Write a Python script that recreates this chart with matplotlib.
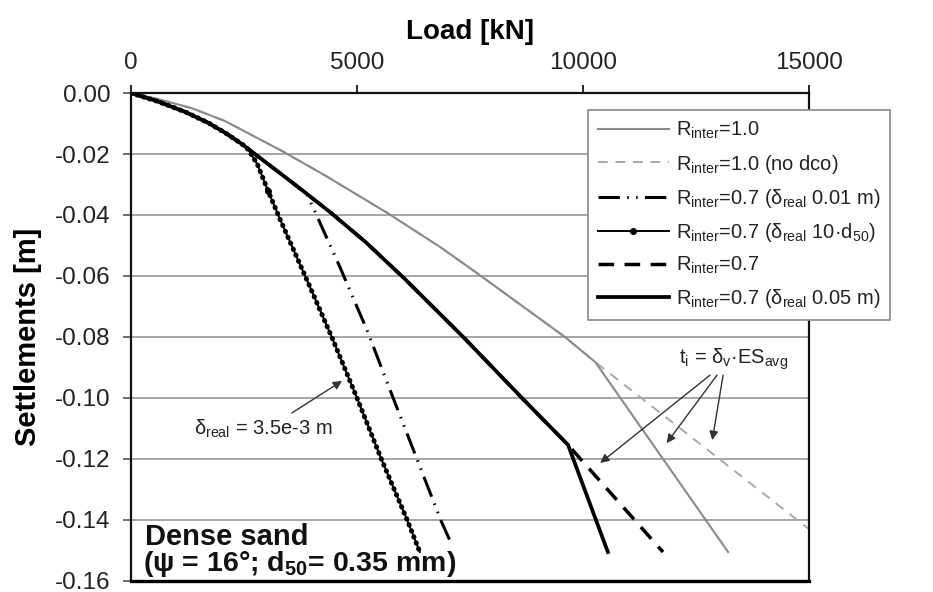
import matplotlib
matplotlib.use("Agg")
import matplotlib.pyplot as plt

plt.rcParams['font.family'] = ['Liberation Sans', 'DejaVu Sans']
plt.rcParams['mathtext.fontset'] = 'custom'
plt.rcParams['mathtext.rm'] = 'Liberation Sans'
plt.rcParams['mathtext.it'] = 'Liberation Sans:italic'
plt.rcParams['mathtext.bf'] = 'Liberation Sans:bold'
plt.rcParams['axes.unicode_minus'] = False

# Load [kN] vs settlement [m]
load_r10 = [0, 600, 1350, 2080, 3340, 4290, 5690, 6840, 7650, 9600, 10270, 13210]
sett_r10 = [0, -0.0020, -0.0050, -0.0092, -0.0190, -0.0270, -0.0395, -0.0505,
            -0.0590, -0.0800, -0.0882, -0.1505]

load_r10_nodco = [0, 600, 1350, 2080, 3340, 4290, 5690, 6840, 7650, 9600, 10270, 15000]
sett_r10_nodco = [0, -0.0020, -0.0050, -0.0092, -0.0190, -0.0270, -0.0395, -0.0505,
                  -0.0590, -0.0800, -0.0882, -0.1430]

load_r07_001 = [0, 600, 1200, 1700, 2100, 2460, 2740, 3520, 3890, 4620, 5220, 5800, 6860, 7100]
sett_r07_001 = [0, -0.0028, -0.0062, -0.0097, -0.0132, -0.0168, -0.0200, -0.0288,
                -0.0330, -0.0570, -0.0777, -0.1000, -0.1403, -0.1482]

load_r07_d50 = [0, 600, 1200, 1700, 2100, 2460, 2600, 2800, 3030, 3300, 3960, 4470,
                5000, 5530, 6110, 6390]
sett_r07_d50 = [0, -0.0028, -0.0062, -0.0097, -0.0132, -0.0168, -0.0186, -0.0235,
                -0.0320, -0.0415, -0.0636, -0.0810, -0.1000, -0.1197, -0.1400, -0.1505]

load_r07 = [0, 600, 1200, 1700, 2100, 2460, 2740, 3520, 4400, 5200, 6060, 7370, 8650,
            9670, 11770]
sett_r07 = [0, -0.0028, -0.0062, -0.0097, -0.0132, -0.0168, -0.0200, -0.0288, -0.0390,
            -0.0490, -0.0610, -0.0803, -0.1000, -0.1154, -0.1505]

load_r07_005 = [0, 600, 1200, 1700, 2100, 2460, 2740, 3520, 4400, 5200, 6060, 7370, 8650,
                9670, 10550]
sett_r07_005 = [0, -0.0028, -0.0062, -0.0097, -0.0132, -0.0168, -0.0200, -0.0288, -0.0390,
                -0.0490, -0.0610, -0.0803, -0.1000, -0.1154, -0.1505]

x_ticks = [0, 5000, 10000, 15000]
y_ticks = [0.00, -0.02, -0.04, -0.06, -0.08, -0.10, -0.12, -0.14, -0.16]

R = r'R$_{\mathrm{inter}}$'
labels = [
    R + '=1.0',
    R + '=1.0 (no dco)',
    R + r'=0.7 (δ$_{\mathrm{real}}$ 0.01 m)',
    R + r'=0.7 (δ$_{\mathrm{real}}$ 10·d$_{50}$)',
    R + '=0.7',
    R + r'=0.7 (δ$_{\mathrm{real}}$ 0.05 m)',
]

fig = plt.figure(figsize=(9.33, 5.92), dpi=100)
ax = fig.add_axes([0.1404, 0.0186, 0.7267, 0.8243])

gray = '#8a8a8a'
ax.plot(load_r10, sett_r10, color=gray, lw=1.5, label=labels[0], zorder=3)
ax.plot(load_r10_nodco, sett_r10_nodco, color='#a8a8a8', lw=1.4,
        linestyle=(0, (5, 4)), label=labels[1], zorder=2)
ax.plot(load_r07_001, sett_r07_001, color='black', lw=2.2,
        linestyle=(0, (7, 2.4, 0.5, 2.4, 0.5, 2.4)), label=labels[2], zorder=4)
ax.plot(load_r07_d50, sett_r07_d50, color='black', lw=1.4, marker='o', ms=4,
        markevery=[len(load_r07_d50) // 2], label=labels[3], zorder=5)
# beaded look along the same curve
ax.plot(load_r07_d50, sett_r07_d50, color='black', lw=3.6,
        linestyle=(0, (0.1, 1.2)), dash_capstyle='round', label='_nolegend_', zorder=5)
ax.plot(load_r07, sett_r07, color='black', lw=2.5, linestyle=(0, (4.5, 3)),
        label=labels[4], zorder=4)
ax.plot(load_r07_005, sett_r07_005, color='black', lw=2.7, label=labels[5], zorder=6)

ax.set_xlim(0, 15000)
ax.set_ylim(-0.16, 0.0)
ax.xaxis.tick_top()
ax.xaxis.set_label_position('top')
ax.set_xticks(x_ticks)
ax.set_xticklabels([str(v) for v in x_ticks])
ax.set_yticks(y_ticks)
ax.set_yticklabels(['%.2f' % v for v in y_ticks])
ax.tick_params(axis='x', direction='out', length=6, width=1.2, pad=8,
               labelsize=17.5, colors='black', labelcolor='#222222')
ax.tick_params(axis='y', direction='out', length=6, width=1.2, pad=9,
               labelsize=17.5, color='#555555', labelcolor='#222222')
ax.grid(axis='y', color='#a6a6a6', lw=1.4)
ax.set_axisbelow(True)
for side in ['left', 'right', 'top']:
    ax.spines[side].set_linewidth(1.6)
    ax.spines[side].set_color('#111111')
ax.spines['bottom'].set_linewidth(2.4)

ax.set_xlabel('Load [kN]', fontsize=20, fontweight='bold', labelpad=9)
ax.set_ylabel('Settlements [m]', fontsize=21, fontweight='bold', labelpad=9)

leg = ax.legend(loc='upper left', bbox_to_anchor=(0.674, 0.965), borderaxespad=0,
                fontsize=14.5, frameon=True, fancybox=False, framealpha=1,
                edgecolor='#888888', handlelength=3.5, handletextpad=0.35,
                labelspacing=0.55, borderpad=0.5, numpoints=1)
leg.get_frame().set_linewidth(1.2)
for t in leg.get_texts():
    t.set_color('#222222')

arrow_kw = dict(arrowstyle='-|>', color='#333333', lw=1.0, mutation_scale=13,
                shrinkA=0, shrinkB=0)

ax.annotate('', xy=(4670, -0.0944), xytext=(3560, -0.1049), arrowprops=arrow_kw)
ax.text(2920, -0.1100, r'δ$_{\mathrm{real}}$ = 3.5e-3 m', fontsize=14.5,
        ha='center', va='center', color='#222222')

ax.text(13320, -0.0872, r't$_{\mathrm{i}}$ = δ$_{\mathrm{v}}$·ES$_{\mathrm{avg}}$',
        fontsize=14.5, ha='center', va='center', color='#222222')
ax.annotate('', xy=(10380, -0.1213), xytext=(12810, -0.0925), arrowprops=arrow_kw)
ax.annotate('', xy=(11850, -0.1148), xytext=(12965, -0.0925), arrowprops=arrow_kw)
ax.annotate('', xy=(12860, -0.1138), xytext=(13100, -0.0925), arrowprops=arrow_kw)

ax.text(0.021, 0.074, 'Dense sand', transform=ax.transAxes, fontsize=21,
        fontweight='bold', ha='left', va='baseline', color='#111111')
ax.text(0.018, 0.020, r'(ψ = 16°; d$_{\mathbf{50}}$= 0.35 mm)', transform=ax.transAxes,
        fontsize=20.5, fontweight='bold', ha='left', va='baseline', color='#111111')

fig.savefig('out.png', dpi=100)
